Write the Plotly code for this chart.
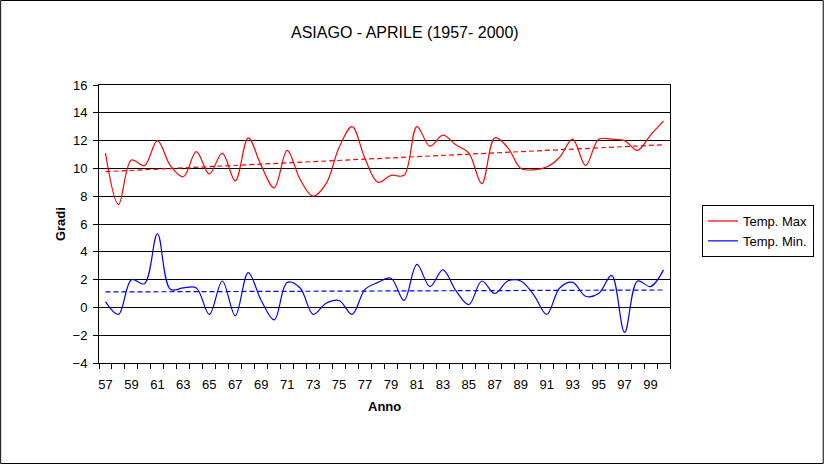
import numpy as np
import plotly.graph_objects as go

years = [f"{y % 100:02d}" for y in range(1957, 2001)]

temp_max = [11.1, 7.4, 10.6, 10.2, 12.0, 10.2, 9.4, 11.2, 9.6, 11.1,
            9.1, 12.2, 10.2, 8.6, 11.3, 9.2, 8.0, 8.9, 11.5, 13.0,
            10.7, 9.0, 9.5, 9.5, 13.0, 11.6, 12.4, 11.7, 11.1, 8.9,
            12.2, 11.5, 10.0, 9.9, 10.1, 10.8, 12.1, 10.2, 12.1, 12.1,
            12.0, 11.3, 12.4, 13.4]

temp_min = [0.4, -0.5, 2.0, 1.7, 5.3, 1.3, 1.4, 1.4, -0.5, 1.9,
            -0.6, 2.5, 0.5, -0.9, 1.8, 1.4, -0.5, 0.3, 0.5, -0.5,
            1.3, 1.8, 2.1, 0.5, 3.1, 1.5, 2.7, 1.2, 0.2, 1.9,
            1.0, 1.9, 1.9, 0.9, -0.5, 1.4, 1.8, 0.8, 1.0, 2.3,
            -1.8, 1.9, 1.5, 2.7]

y_ticks = list(range(-4, 17, 2))

W, H = 825, 464
L, R, T, B = 99, 671, 85, 363
pw, ph = R - L, B - T

idx = np.arange(len(years))
fit_max = np.polyval(np.polyfit(idx, temp_max, 1), idx)
fit_min = np.polyval(np.polyfit(idx, temp_min, 1), idx)

fig = go.Figure()
fig.add_trace(go.Scatter(x=idx, y=temp_max, mode="lines", name="Temp. Max",
                         line=dict(color="#ff0000", width=1.2, shape="spline", smoothing=1)))
fig.add_trace(go.Scatter(x=idx, y=temp_min, mode="lines", name="Temp. Min.",
                         line=dict(color="#0000ff", width=1.2, shape="spline", smoothing=1)))
fig.add_trace(go.Scatter(x=idx, y=fit_max, mode="lines", showlegend=False, hoverinfo="skip",
                         line=dict(color="#ff0000", width=1.2, dash="5px,3px")))
fig.add_trace(go.Scatter(x=idx, y=fit_min, mode="lines", showlegend=False, hoverinfo="skip",
                         line=dict(color="#0000ff", width=1.2, dash="5px,3px")))

font = "Arial, Liberation Sans, sans-serif"

fig.update_layout(
    width=W, height=H,
    margin=dict(l=L, r=W - R, t=T, b=H - B, pad=0),
    paper_bgcolor="white", plot_bgcolor="white",
    font=dict(family=font, size=13, color="black"),
    showlegend=True,
    legend=dict(x=(702 - L) / pw, y=(B - 205) / ph, xanchor="left", yanchor="top",
                bordercolor="black", borderwidth=1, bgcolor="white",
                font=dict(family=font, size=13, color="black"),
                itemwidth=30, tracegroupgap=0),
    xaxis=dict(range=[-0.5, len(years) - 0.5],
               tickmode="array", tickvals=idx[::2].tolist(), ticktext=years[::2],
               ticks="", showgrid=False, zeroline=False, ticklabelstandoff=9,
               showline=True, linecolor="black", linewidth=1, mirror=True,
               tickfont=dict(family=font, size=13),
               minor=dict(tickmode="linear", tick0=-0.5, dtick=1, ticks="outside",
                          ticklen=5, tickcolor="black", tickwidth=1, showgrid=False)),
    yaxis=dict(range=[-4, 16], tickmode="array", tickvals=y_ticks,
               ticks="outside", ticklen=5, tickcolor="black", ticklabelstandoff=3,
               showgrid=True, gridcolor="black", gridwidth=1,
               zeroline=True, zerolinecolor="black", zerolinewidth=1,
               showline=True, linecolor="black", linewidth=1, mirror=True,
               tickfont=dict(family=font, size=13)),
    annotations=[
        dict(text="ASIAGO - APRILE (1957- 2000)", x=(406 - L) / pw, y=(B - 32) / ph,
             xref="paper", yref="paper", showarrow=False, xanchor="center", yanchor="middle",
             font=dict(family=font, size=16, color="black")),
        dict(text="<b>Gradi</b>", x=(60 - L) / pw, y=(B - 224) / ph, textangle=-90,
             xref="paper", yref="paper", showarrow=False, xanchor="center", yanchor="middle",
             font=dict(family=font, size=13, color="black")),
        dict(text="<b>Anno</b>", x=(385 - L) / pw, y=(B - 406) / ph,
             xref="paper", yref="paper", showarrow=False, xanchor="center", yanchor="middle",
             font=dict(family=font, size=13, color="black")),
    ],
    shapes=[dict(type="rect", xref="paper", yref="paper",
                 x0=(0.5 - L) / pw, x1=(824.5 - L) / pw,
                 y0=(B - 463.5) / ph, y1=(B - 0.5) / ph,
                 line=dict(color="black", width=1), layer="below")],
)

fig.write_html("out.html", config={"displayModeBar": False},
               post_script="document.body.style.margin='0';document.body.style.overflow='hidden';")
